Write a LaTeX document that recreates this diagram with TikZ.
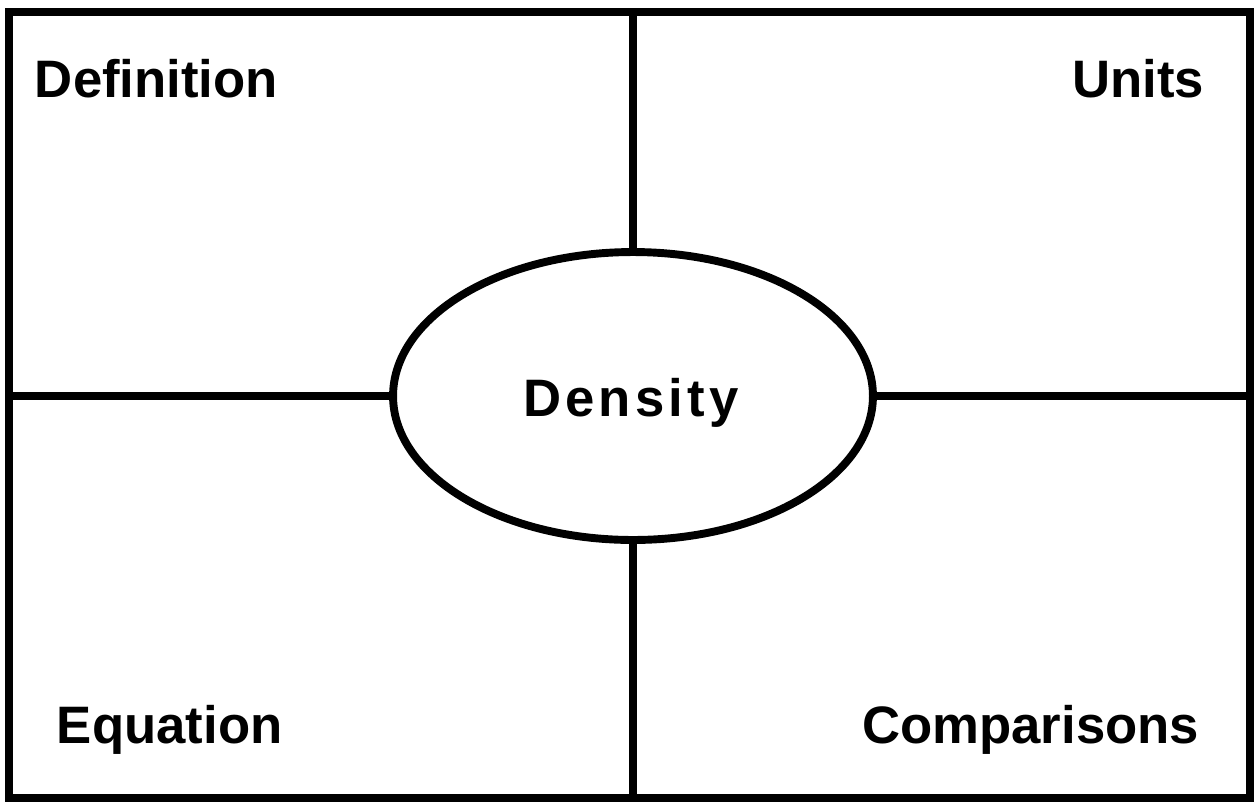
\documentclass[tikz,border=0pt]{standalone}
\usepackage{fontspec}
\setmainfont{Liberation Sans}
\usepackage{tikz}
\usetikzlibrary{shapes.geometric}

\begin{document}
\begin{tikzpicture}[x=0.02cm,y=-0.02cm,line width=4.5pt,
    label/.style={font=\fontsize{30}{36}\selectfont\bfseries,inner sep=0pt}]
  \useasboundingbox (0,0) rectangle (1258,802);
  \def\midx{633}
  \def\midy{396}
  % outer frame
  \draw (9,12) rectangle (1250,798);
  \node (dens) at (\midx,\midy) [draw,ellipse,minimum width=9.6cm,minimum height=5.76cm,inner sep=0pt] {};
  \node (denstext) at (631,416) [label,anchor=base] {\addfontfeature{LetterSpace=8}Density};
  % the four arms
  \coordinate (top) at (\midx,12);
  \coordinate (bot) at (\midx,798);
  \coordinate (lft) at (9,\midy);
  \coordinate (rgt) at (1250,\midy);
  \draw (top) -- (dens.north);
  \draw (dens.south) -- (bot);
  \draw (lft) -- (dens.west);
  \draw (dens.east) -- (rgt);
  % corner labels
  \node (def) at (31,97) [label,anchor=base west] {Definition};
  \node (units) at (1208,97) [label,anchor=base east] {Units};
  \node (eq) at (53,743) [label,anchor=base west] {Equation};
  \node (comp) at (1203,743) [label,anchor=base east] {Comparisons};
\end{tikzpicture}
\end{document}
